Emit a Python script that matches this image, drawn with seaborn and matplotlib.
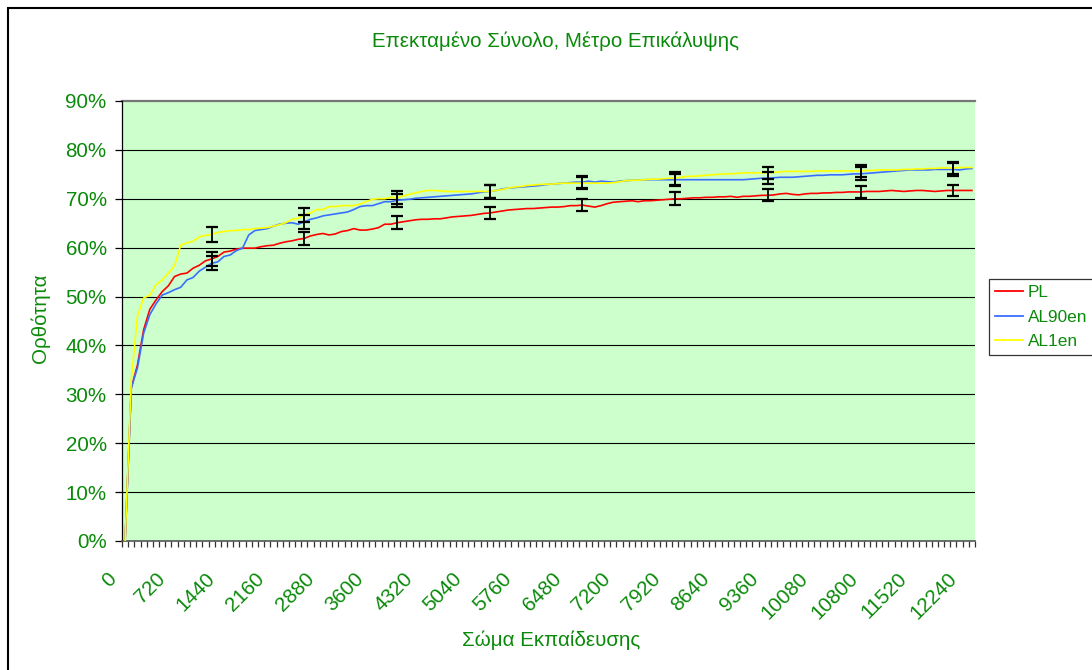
import numpy as np
import pandas as pd
import matplotlib
matplotlib.use("Agg")
import matplotlib.pyplot as plt
from matplotlib.transforms import ScaledTranslation
from matplotlib.lines import Line2D
from matplotlib.patches import Rectangle
import seaborn as sns

# ---------------- data ----------------
categories = list(range(0, 12420, 90))          # 138 training-set sizes (category axis)
tick_step = 8                                   # one label every 8 categories
series_names = ["PL", "AL90en", "AL1en"]

pl = [0, 31.3, 36.0, 43.2, 47.4, 49.3, 51.0, 52.2, 54.1, 54.6,
      54.8, 55.8, 56.4, 57.3, 57.7, 58.2, 59.1, 59.3, 59.7, 59.9,
      59.9, 59.9, 60.2, 60.4, 60.5, 60.9, 61.2, 61.4, 61.7, 61.9,
      62.4, 62.7, 62.9, 62.6, 62.8, 63.3, 63.5, 63.9, 63.6, 63.6,
      63.8, 64.1, 64.8, 64.8, 65.1, 65.3,
      65.5, 65.7, 65.8, 65.8, 65.9, 65.9, 66.1, 66.3, 66.4, 66.5,
      66.6, 66.8, 67.0, 67.1, 67.3, 67.5, 67.7, 67.8, 67.9, 68.0,
      68.0, 68.1, 68.2, 68.3, 68.3, 68.4, 68.6, 68.6, 68.7, 68.5,
      68.3, 68.6, 69.0, 69.3, 69.4, 69.5, 69.6, 69.4, 69.6, 69.6,
      69.7, 69.8, 69.9, 70.0, 70.0, 70.1, 70.2, 70.2, 70.3, 70.3,
      70.4, 70.4, 70.5, 70.3, 70.5, 70.5, 70.6, 70.7, 70.7, 70.8,
      71.0, 71.1, 70.9, 70.8, 71.0, 71.1, 71.1, 71.2, 71.2, 71.3,
      71.3, 71.4, 71.4, 71.4, 71.5, 71.5, 71.5, 71.6, 71.7, 71.6,
      71.5, 71.6, 71.7, 71.7, 71.6, 71.5, 71.6, 71.7, 71.7, 71.7,
      71.7, 71.7]

al90en = [0, 31.3, 35.4, 42.5, 46.3, 48.5, 50.3, 50.8, 51.4, 51.9,
          53.4, 53.9, 55.2, 56.0, 56.8, 57.1, 58.2, 58.5, 59.4, 59.9,
          62.6, 63.5, 63.7, 63.9, 64.4, 64.8, 65.0, 65.1, 64.8, 65.3,
          65.8, 66.1, 66.5, 66.7, 66.9, 67.1, 67.3, 67.8, 68.4, 68.6,
          68.6, 69.0, 69.4, 69.4, 69.7, 69.8,
          69.9, 70.1, 70.2, 70.3, 70.4, 70.5, 70.6, 70.7, 70.8, 70.9,
          71.0, 71.2, 71.4, 71.5, 71.7, 72.0, 72.2, 72.3, 72.4, 72.5,
          72.6, 72.7, 72.9, 73.0, 73.1, 73.2, 73.3, 73.4, 73.4, 73.6,
          73.4, 73.6, 73.5, 73.4, 73.6, 73.7, 73.8, 73.8, 73.9, 73.9,
          73.9, 73.9, 73.9, 73.9, 73.9, 73.9, 73.9, 73.9, 73.9, 73.9,
          73.9, 73.9, 73.9, 73.9, 73.9, 74.0, 74.1, 74.2, 74.2, 74.3,
          74.4, 74.4, 74.4, 74.5, 74.6, 74.7, 74.8, 74.8, 74.9, 74.9,
          74.9, 75.0, 75.1, 75.1, 75.2, 75.3, 75.4, 75.5, 75.6, 75.7,
          75.8, 75.9, 75.9, 75.9, 75.9, 76.0, 76.0, 76.0, 76.0, 75.9,
          76.1, 76.2]

al1en = [0, 33.0, 46.0, 49.7, 50.3, 52.4, 53.4, 54.8, 56.3, 60.5,
         61.0, 61.3, 62.2, 62.5, 62.7, 63.1, 63.3, 63.5, 63.5, 63.7,
         63.7, 63.9, 64.0, 64.1, 64.4, 64.7, 65.1, 65.8, 66.0, 66.7,
         67.1, 67.8, 67.8, 68.4, 68.4, 68.6, 68.6, 68.6, 68.9, 69.4,
         69.9, 70.0, 70.0, 70.3, 70.2, 70.6,
         70.9, 71.2, 71.5, 71.7, 71.7, 71.6, 71.5, 71.5, 71.5, 71.5,
         71.5, 71.5, 71.5, 71.5, 71.7, 71.9, 72.2, 72.4, 72.5, 72.7,
         72.8, 72.9, 73.0, 73.0, 73.1, 73.2, 73.2, 73.2, 73.2, 73.2,
         73.2, 73.2, 73.2, 73.3, 73.5, 73.7, 73.8, 73.8, 73.9, 74.0,
         74.0, 74.1, 74.2, 74.2, 74.4, 74.6, 74.6, 74.7, 74.8, 74.9,
         75.0, 75.1, 75.1, 75.2, 75.3, 75.3, 75.3, 75.3, 75.3, 75.4,
         75.5, 75.6, 75.6, 75.6, 75.6, 75.6, 75.7, 75.7, 75.7, 75.7,
         75.7, 75.7, 75.7, 75.7, 75.8, 75.8, 75.9, 75.9, 75.9, 75.9,
         76.0, 76.0, 76.1, 76.1, 76.2, 76.2, 76.3, 76.3, 76.3, 76.4,
         76.4, 76.4]

err_idx = [14, 29, 44, 59, 74, 89, 104, 119, 134]   # category positions with error bars
pl_err = [1.4, 1.4, 1.3, 1.3, 1.3, 1.3, 1.2, 1.3, 1.2]
al90en_err = [1.4, 1.4, 1.3, 1.3, 1.2, 1.2, 1.2, 1.3, 1.3]
al1en_err = [1.5, 1.4, 1.3, 1.3, 1.2, 1.3, 1.2, 1.3, 1.3]

yticks = [0, 10, 20, 30, 40, 50, 60, 70, 80, 90]

title = "Επεκταμένο Σύνολο, Μέτρο Επικάλυψης"
xlabel = "Σώμα Εκπαίδευσης"
ylabel = "Ορθότητα"

# ---------------- style ----------------
W, H = 1092, 670
plt.rcParams["font.family"] = ["Liberation Sans", "DejaVu Sans"]
green = "#0A8A0A"
colors = {"PL": "#FF0000", "AL90en": "#3A6EFF", "AL1en": "#FFFF00"}
FS = 14.8

values = {"PL": pl, "AL90en": al90en, "AL1en": al1en}
errs = {"PL": pl_err, "AL90en": al90en_err, "AL1en": al1en_err}

rows = []
for name in series_names:
    for i, v in enumerate(values[name]):
        rows.append({"idx": i, "value": v, "series": name})
df = pd.DataFrame(rows)

fig = plt.figure(figsize=(W / 100, H / 100), dpi=100)
fig.patch.set_facecolor("white")
L, R, T, B = 122, 975, 101, 541
ax = fig.add_axes([L / W, 1 - B / H, (R - L) / W, (B - T) / H])
ax.set_facecolor("#CCFFCC")

n = len(categories)
ax.set_xlim(-0.5, n - 0.5)
ax.set_ylim(0, 90)

# gridlines
for y in yticks[1:-1]:
    ax.axhline(y, color="black", lw=0.8, zorder=1)
ax.axhline(90, color="#777777", lw=1.6, zorder=1, clip_on=False)

sns.lineplot(data=df, x="idx", y="value", hue="series", hue_order=series_names,
             palette=colors, linewidth=1.2, legend=False, ax=ax, zorder=3,
             errorbar=None)

for name in series_names:
    ys = [values[name][i] for i in err_idx]
    ax.errorbar(err_idx, ys, yerr=errs[name], fmt="none", ecolor="black",
                elinewidth=1.3, capsize=4, capthick=1.6, zorder=5)

# spines
for s in ["top", "right"]:
    ax.spines[s].set_visible(False)
ax.spines["left"].set_color("black")
ax.spines["left"].set_linewidth(0.9)
ax.spines["bottom"].set_color("#555555")
ax.spines["bottom"].set_linewidth(1.2)

# y axis
ax.set_yticks(yticks)
ax.set_yticklabels([f"{v}%" for v in yticks])
ax.tick_params(axis="y", direction="out", length=5, width=0.9, color="black",
               labelsize=FS, labelcolor=green, pad=6)

# x axis: ticks between categories, labels every 8th category
ax.set_xticks(np.arange(-0.5, n, 1.0), minor=True)
label_pos = list(range(0, n, tick_step))
ax.set_xticks(label_pos)
ax.set_xticklabels([str(categories[i]) for i in label_pos])
ax.tick_params(axis="x", which="minor", direction="out", length=4.5, width=0.9,
               color="#333333")
ax.tick_params(axis="x", which="major", length=0, labelsize=FS,
               labelcolor=green, pad=25)
off = ScaledTranslation(-12 / 100, 0, fig.dpi_scale_trans)
for lab in ax.get_xticklabels():
    lab.set_rotation(45)
    lab.set_ha("right")
    lab.set_va("center")
    lab.set_rotation_mode("anchor")
    lab.set_transform(lab.get_transform() + off)

ax.set_xlabel("")
ax.set_ylabel("")

# texts
fig.text(555 / W, 1 - 41 / H, title, ha="center", va="center", fontsize=FS, color=green)
fig.text(551 / W, 1 - 640 / H, xlabel, ha="center", va="center", fontsize=FS, color=green)
fig.text(40 / W, 1 - 318 / H, ylabel, ha="center", va="center", rotation=90,
         fontsize=FS, color=green)

# legend
handles = [Line2D([0], [0], color=colors[nm], lw=1.3) for nm in series_names]
leg = fig.legend(handles, series_names, loc="upper left",
                 bbox_to_anchor=(989 / W, 1 - 279 / H), frameon=True, fancybox=False,
                 edgecolor="black", fontsize=12.4, handlelength=1.6, handletextpad=0.3,
                 labelspacing=0.55, borderpad=0.35, borderaxespad=0)
leg.get_frame().set_linewidth(0.9)
for t in leg.get_texts():
    t.set_color(green)

# outer chart border (left/top visible)
fig.patches.append(Rectangle((8 / W, -0.05), 1.2, 1 - 8 / H + 0.05, transform=fig.transFigure,
                             fill=False, ec="black", lw=1.5))

fig.savefig("out.png", dpi=100)
